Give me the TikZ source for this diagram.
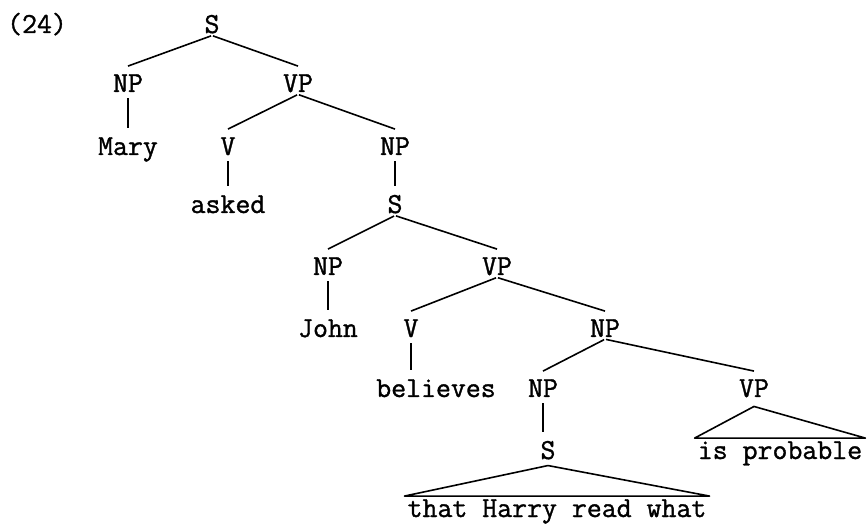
\documentclass[tikz,border=0pt]{standalone}
\usepackage{fontspec}
\newfontfamily\typewriter[FakeBold=1.2]{Latin Modern Mono}
\usepackage{tikz}
\usetikzlibrary{calc}

\begin{document}
\begin{tikzpicture}[x=1pt,y=-1pt,
    cat/.style={font=\fontsize{29}{34}\selectfont\typewriter, anchor=base, inner sep=2pt},
    words/.style={cat, inner sep=3pt},
    branch/.style={line width=1.6pt}]
    \useasboundingbox (0,0) rectangle (868,529);

    % Example number
    \node[cat] (num) at (37,33) {(24)};

    % Matrix clause
    \node[cat] (s0) at (212,33) {S};
    \node[cat] (np0) at (128,92) {NP};
    \node[cat] (vp0) at (298,92) {VP};
    \node[cat] (mary) at (128,155) {Mary};
    \node[cat] (v1) at (228,155) {V};
    \node[cat] (np1) at (395,155) {NP};
    \node[cat] (asked) at (228,213) {asked};
    \node[cat] (s1) at (395,213) {S};

    % Embedded clause
    \node[cat] (np2) at (328,275) {NP};
    \node[cat] (vp2) at (497,275) {VP};
    \node[cat] (john) at (328,337) {John};
    \node[cat] (v2) at (411,337) {V};
    \node[cat] (np3) at (605,337) {NP};
    \node[cat] (believes) at (436,397) {believes};
    \node[cat] (np4) at (543,397) {NP};
    \node[cat] (vp4) at (754,397) {VP};
    \node[cat] (s4) at (548,459) {S};

    % Unanalysed strings
    \node[words] (probable) at (780,459) {is probable};
    \node[words] (harry) at (557,517) {that Harry read what};

    % Branches
    \foreach \p/\c in {s0/np0, s0/vp0, vp0/v1, vp0/np1, s1/np2, s1/vp2, vp2/v2, vp2/np3, np3/np4, np3/vp4}
        \draw[branch, shorten <=1pt] (\p.south) -- ([yshift=6pt]\c.north);
    \foreach \p/\c in {np0/mary, v1/asked, np1/s1, np2/john, v2/believes, np4/s4}
        \draw[branch] ([yshift=-4pt]\p.south) -- ([yshift=7pt]\p.south |- \c.north);

    % Triangles
    \draw[branch, line join=round] ([yshift=-4pt]s4.south) -- (harry.north west) -- (harry.north east) -- cycle;
    \draw[branch, line join=round] ([yshift=-7pt]vp4.south) -- (probable.north west) -- (probable.north east) -- cycle;
\end{tikzpicture}
\end{document}
